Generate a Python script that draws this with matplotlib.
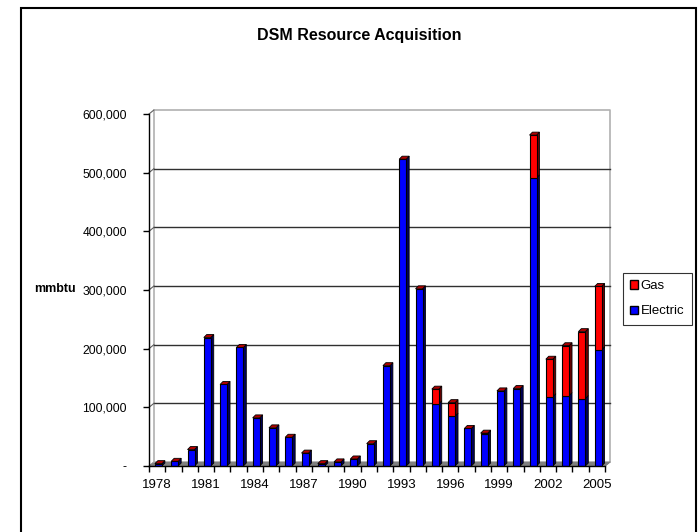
import matplotlib
matplotlib.use("Agg")
import matplotlib.pyplot as plt
from matplotlib.patches import Polygon, Rectangle, Patch

plt.rcParams['font.family'] = ['Liberation Sans', 'DejaVu Sans']

years = list(range(1978, 2006))
electric = [4000, 8000, 28000, 219000, 139000, 202000, 82000, 65000, 49000, 22000,
            4000, 7000, 12000, 38000, 171000, 523000, 302000, 106000, 85000, 64000,
            55000, 128000, 132000, 491000, 118000, 120000, 115000, 198000]
gas = [0, 0, 0, 0, 0, 0, 0, 0, 0, 0,
       0, 0, 0, 0, 0, 0, 0, 25000, 23000, 0,
       1000, 0, 0, 73000, 64000, 85000, 114000, 108000]
yticks = [0, 100000, 200000, 300000, 400000, 500000, 600000]
ytick_labels = ['-', '100,000', '200,000', '300,000', '400,000', '500,000', '600,000']
title = 'DSM Resource Acquisition'
ylabel = 'mmbtu'
series_names = ['Gas', 'Electric']

W, H = 698, 532
fig = plt.figure(figsize=(W / 100, H / 100), dpi=100)
ax = fig.add_axes([149 / W, (H - 466) / H, 456 / W, 352 / H])
n = len(years)
ax.set_xlim(-0.5, n - 0.5)
ax.set_ylim(0, 600000)

# 3D offsets (data units)
ox, oy = 0.30, 6800      # back wall offset
dx, dy = 0.18, 5100      # bar depth
bw, boff = 0.43, 0.08

# floor
ax.add_patch(Polygon([(-0.5, 0), (n - 0.5, 0), (n - 0.5 + ox, oy), (-0.5 + ox, oy)],
                     closed=True, fc='#808080', ec='#808080', lw=0.8, zorder=1, clip_on=False))
# back wall gridlines
for v in yticks[1:-1]:
    ax.plot([-0.5 + ox, n - 0.5 + ox], [v + oy, v + oy], color='#303030', lw=1.0,
            zorder=1.5, clip_on=False)
for v in yticks[1:]:
    ax.plot([-0.5, -0.5 + ox], [v, v + oy], color='#606060', lw=0.8, zorder=1.5, clip_on=False)
# wall edges
ax.plot([-0.5 + ox, -0.5 + ox, n - 0.5 + ox, n - 0.5 + ox],
        [oy, 600000 + oy, 600000 + oy, oy], color='#B0B0B0', lw=1.2, zorder=1.4, clip_on=False)
ax.plot([n - 0.5, n - 0.5 + ox], [0, oy], color='#808080', lw=0.8, zorder=1.5, clip_on=False)

# bars
for k in range(n):
    e, g = electric[k], gas[k]
    top = e + g
    x0 = k + boff - bw / 2
    ax.bar(k + boff, e, width=bw, color='#0000FF', edgecolor='black', linewidth=0.8, zorder=3)
    if g > 0:
        ax.bar(k + boff, g, bottom=e, width=bw, color='#FF0000', edgecolor='black',
               linewidth=0.8, zorder=3)
    ax.add_patch(Polygon([(x0 + bw, 0), (x0 + bw + dx, dy), (x0 + bw + dx, e + dy), (x0 + bw, e)],
                         closed=True, fc='#00005A', ec='black', lw=0.6, zorder=2.9, clip_on=False))
    if g > 0:
        ax.add_patch(Polygon([(x0 + bw, e), (x0 + bw + dx, e + dy), (x0 + bw + dx, top + dy), (x0 + bw, top)],
                             closed=True, fc='#6A0000', ec='black', lw=0.6, zorder=2.9, clip_on=False))
    ax.add_patch(Polygon([(x0, top), (x0 + bw, top), (x0 + bw + dx, top + dy), (x0 + dx, top + dy)],
                         closed=True, fc='#B00000', ec='black', lw=0.6, zorder=3.1, clip_on=False))

# axes styling
for s in ['top', 'right']:
    ax.spines[s].set_visible(False)
for s in ['left', 'bottom']:
    ax.spines[s].set_color('black')
    ax.spines[s].set_linewidth(1.0)
    ax.spines[s].set_zorder(5)
ax.patch.set_visible(False)

ax.set_yticks(yticks)
ax.set_yticklabels(ytick_labels, fontsize=8.7)
ax.tick_params(axis='y', direction='out', length=4, width=1, pad=12)

label_pos = [k for k in range(n) if (years[k] - 1978) % 3 == 0]
ax.set_xticks(label_pos)
ax.set_xticklabels([str(years[k]) for k in label_pos], fontsize=9.5)
ax.set_xticks([k - 0.5 for k in range(n + 1)], minor=True)
ax.tick_params(axis='x', which='major', length=0, pad=9.5)
ax.tick_params(axis='x', which='minor', direction='out', length=4, width=1)

fig.text(55 / W, 1 - 289 / H, ylabel, ha='center', va='center', fontsize=9, fontweight='bold')
fig.text(359 / W, 1 - 35.5 / H, title, ha='center', va='center', fontsize=11.5, fontweight='bold')

handles = [Patch(facecolor='#FF0000', edgecolor='black', label=series_names[0]),
           Patch(facecolor='#0000FF', edgecolor='black', label=series_names[1])]
leg = fig.legend(handles=handles, loc='upper left', bbox_to_anchor=(623 / W, 1 - 273 / H),
                 fontsize=9.5, frameon=True, fancybox=False, edgecolor='black',
                 handlelength=0.6, handleheight=0.6, handletextpad=0.2, borderpad=0.55,
                 labelspacing=1.0, borderaxespad=0)
leg.get_frame().set_linewidth(0.8)

fig.add_artist(Rectangle((21 / W, -0.1), (696 - 21) / W, (H - 8) / H + 0.1,
                         transform=fig.transFigure, fill=False, ec='black', lw=1.5))

fig.savefig('out.png', dpi=100)
